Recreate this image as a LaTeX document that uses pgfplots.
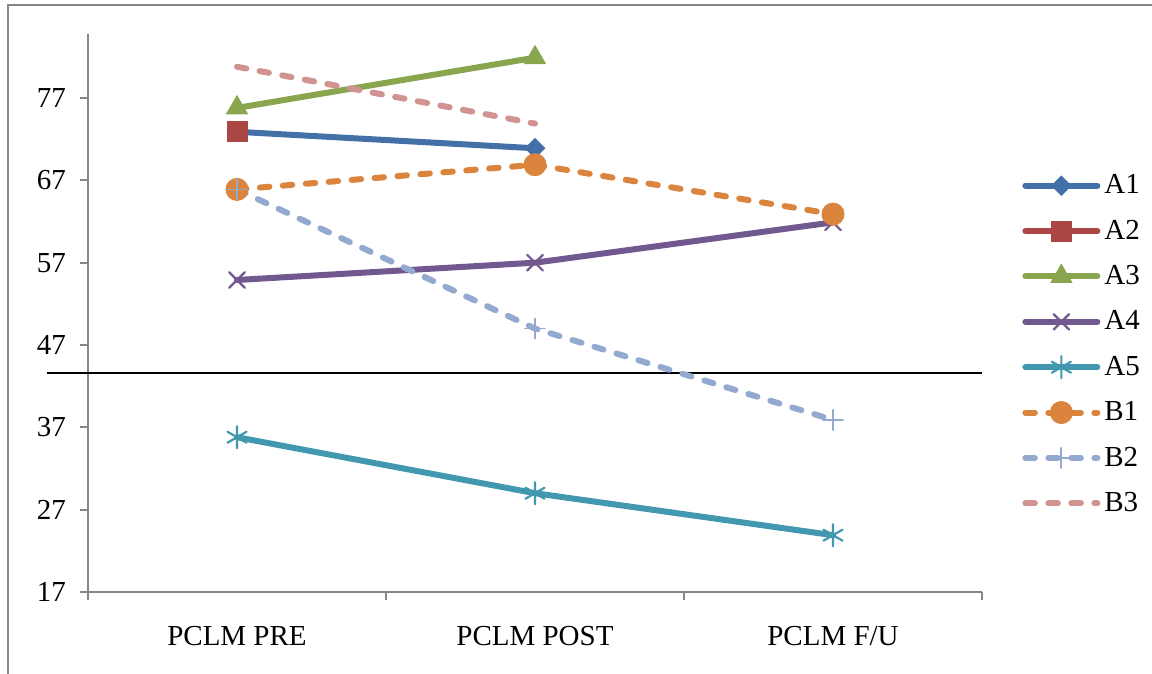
\documentclass[border=0pt]{standalone}
\usepackage{fontspec}
\setmainfont{Liberation Serif}
\usepackage{pgfplots}
\pgfplotsset{compat=1.18}
\definecolor{axgray}{HTML}{868686}
\definecolor{cA1}{HTML}{4470A8}
\definecolor{cA2}{HTML}{AA4643}
\definecolor{cA3}{HTML}{89A54E}
\definecolor{cA4}{HTML}{71588F}
\definecolor{cA5}{HTML}{4198AF}
\definecolor{cB1}{HTML}{DB843D}
\definecolor{cB2}{HTML}{93A9CF}
\definecolor{cB3}{HTML}{D19392}
\begin{document}
\begin{tikzpicture}[x=1pt,y=1pt]
\path[use as bounding box] (0,0) rectangle (576,337);
\draw[color=axgray, line width=1.1pt] (4,0) -- (4,334.5) -- (577,334.5);
\begin{axis}[
  at={(44pt,41pt)}, anchor=south west,
  scale only axis, width=447pt, height=279pt,
  xmin=-0.5, xmax=2.5, ymin=17, ymax=84.78,
  axis lines*=left,
  axis line style={color=axgray, line width=1pt},
  tick style={color=axgray, line width=1pt},
  tick align=outside, major tick length=4pt,
  ytick={17,27,37,47,57,67,77},
  xtick={-0.5,0.5,1.5,2.5}, xticklabels={},
  extra x ticks={0,1,2},
  extra x tick labels={PCLM PRE, PCLM POST, PCLM F/U},
  extra x tick style={tick style={draw=none}},
  font=\fontsize{14.5}{16}\selectfont,
  /pgf/number format/assume math mode=true,
  yticklabel style={xshift=-3.5pt},
  xticklabel style={yshift=-9.5pt},
  clip=false,
  legend cell align=left,
  legend style={at={(1.038,0.763)}, anchor=north west, draw=none, fill=none,
    row sep=7.6pt, font=\fontsize{14.5}{16}\selectfont,
    /tikz/every odd column/.append style={column sep=0pt},
    /tikz/every even column/.append style={inner xsep=1.5pt}},
  legend image code/.code={\draw[mark repeat=2,mark phase=2] plot coordinates {(0pt,0pt)(18pt,0pt)(36pt,0pt)};},
  every axis plot/.append style={line width=3pt, line cap=round},
]
\draw[black, line width=1pt] (axis cs:-0.638,43.55) -- (axis cs:2.5,43.55);
\addplot[color=cA1, mark=square*, mark size=3.4pt, mark options={solid, fill=cA1, line width=0.5pt, rotate=45}] coordinates {(0,72.9) (1,70.9)};
\addlegendentry{A1}
\addplot[color=cA2, mark=square*, mark size=5pt, mark options={solid, fill=cA2, line width=0.5pt}] coordinates {(0,72.9)};
\addlegendentry{A2}
\addplot[color=cA3, mark=triangle*, mark size=6pt, mark options={solid, fill=cA3, line width=0.5pt}] coordinates {(0,75.8) (1,81.9)};
\addlegendentry{A3}
\addplot[color=cA4, mark=x, mark size=5.5pt, mark options={solid, line width=1.1pt}] coordinates {(0,54.9) (1,57.0) (2,61.9)};
\addlegendentry{A4}
\addplot[color=cA5, mark=asterisk, mark size=5.5pt, mark options={solid, line width=1.1pt}] coordinates {(0,35.8) (1,29.0) (2,23.9)};
\addlegendentry{A5}
\addplot[color=cB1, dash pattern=on 4.75pt off 6.75pt, mark=*, mark size=5.5pt, mark options={solid, fill=cB1, line width=0.5pt}] coordinates {(0,65.9) (1,68.9) (2,62.9)};
\addlegendentry{B1}
\addplot[color=cB2, dash pattern=on 4.75pt off 6.75pt, mark=+, mark size=5pt, mark options={solid, line width=0.9pt}] coordinates {(0,65.9) (1,49.0) (2,37.9)};
\addlegendentry{B2}
\addplot[color=cB3, dash pattern=on 4.75pt off 6.75pt] coordinates {(0,80.8) (1,73.9)};
\addlegendentry{B3}
\end{axis}
\end{tikzpicture}
\end{document}
